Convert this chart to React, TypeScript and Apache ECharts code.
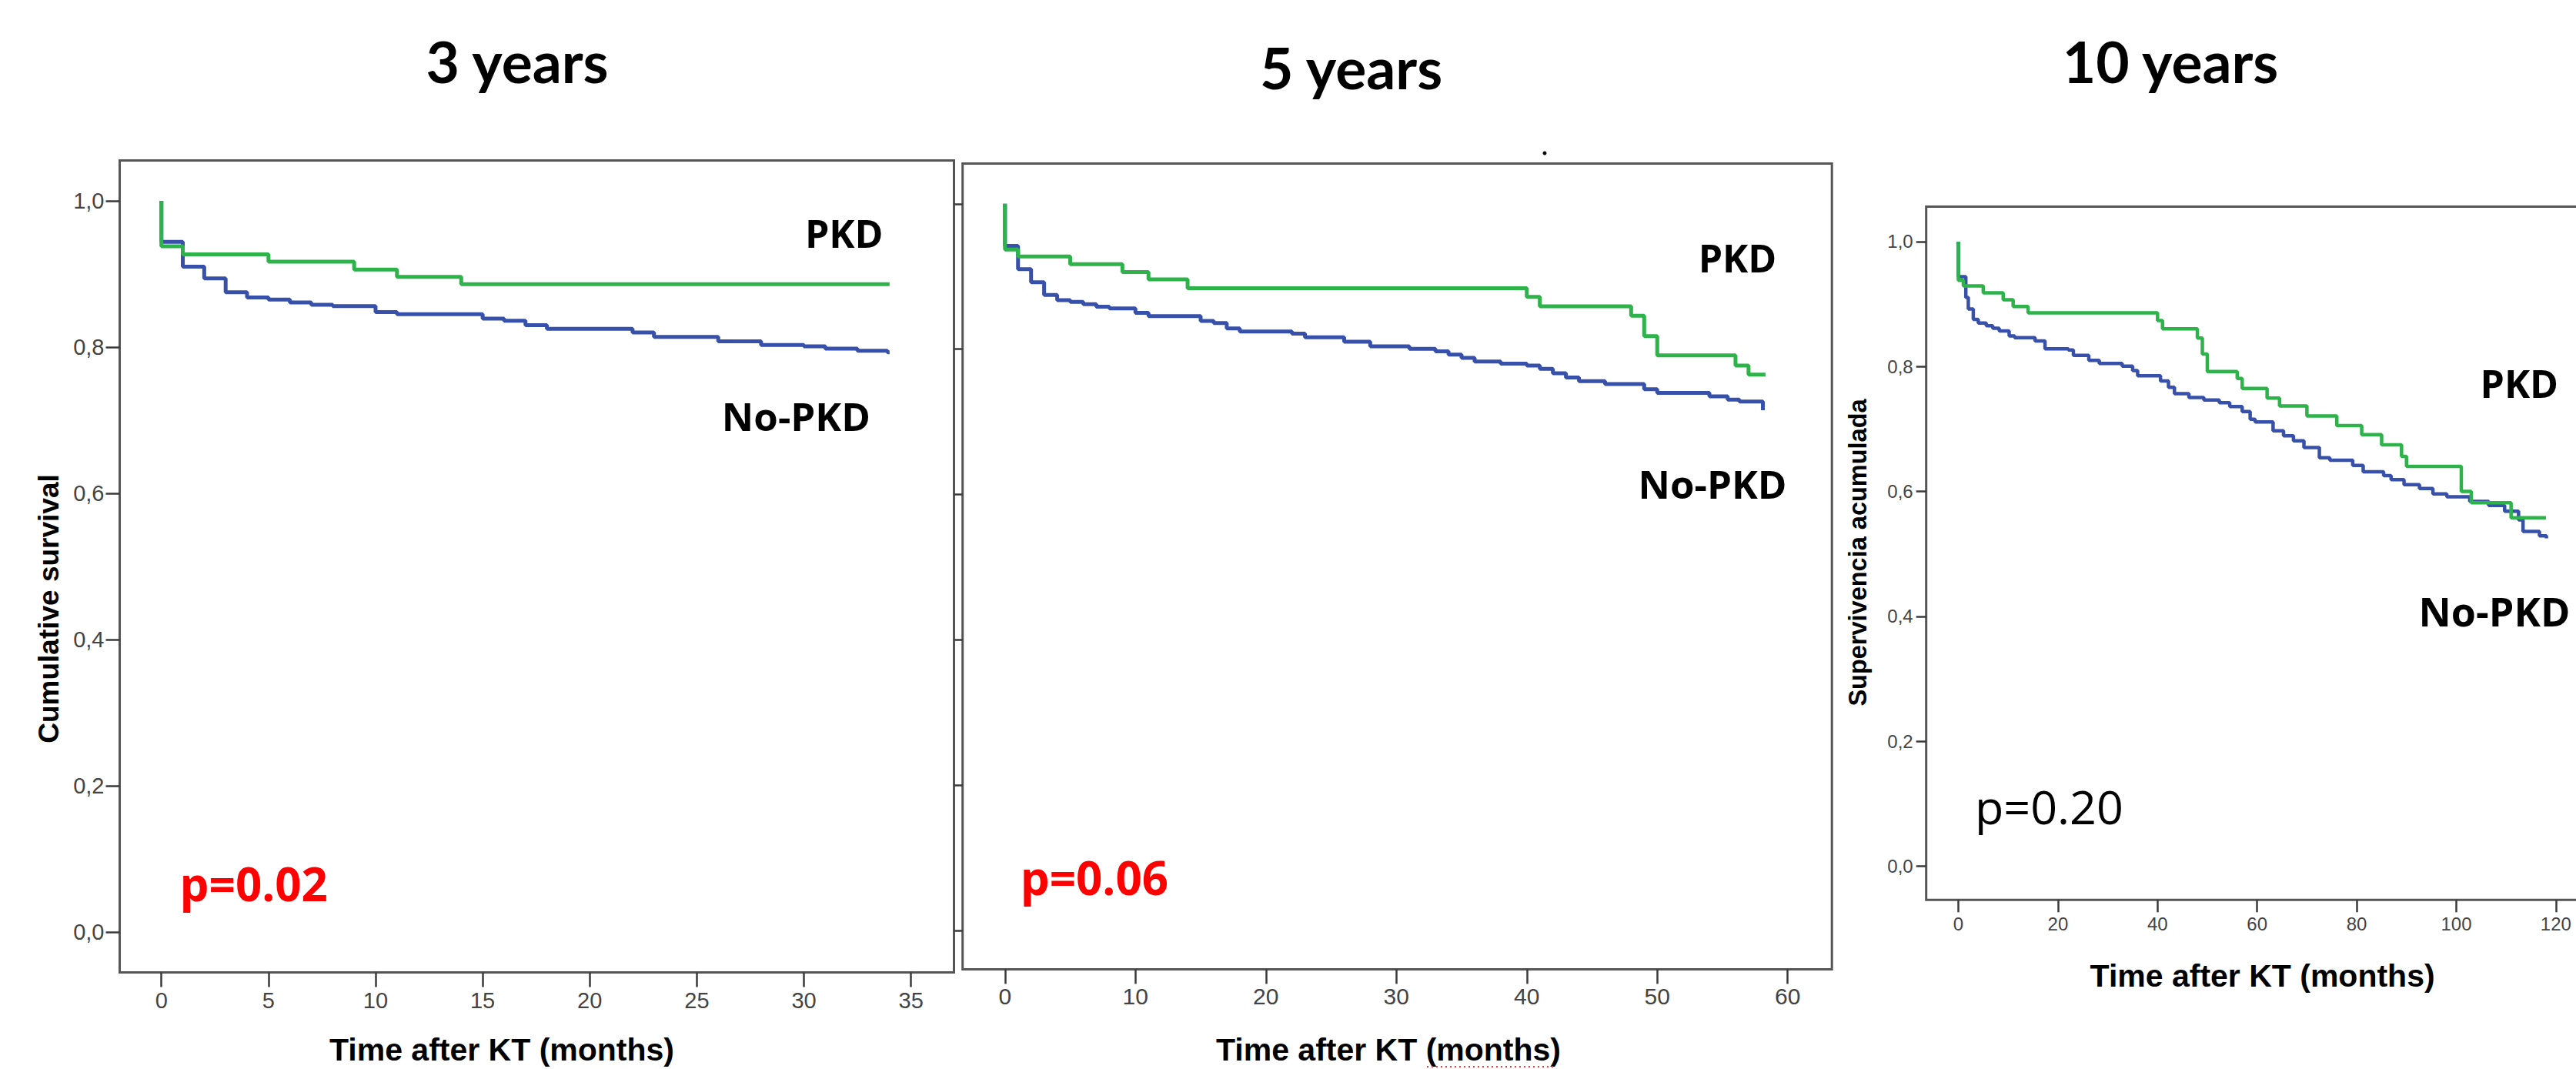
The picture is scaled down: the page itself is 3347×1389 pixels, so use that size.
import React, { useEffect, useRef } from "react";
import * as echarts from "echarts";

// ---------- data ----------
const titles = ["3 years", "5 years", "10 years"];
const groupLabels = ["PKD", "No-PKD"];
const pValues = ["p=0.02", "p=0.06", "p=0.20"];
const xTitle = "Time after KT (months)";
const yTitles = ["Cumulative survival", "Supervivencia acumulada"];

const yTicks = [0, 0.2, 0.4, 0.6, 0.8, 1.0];
const xTicks3 = [0, 5, 10, 15, 20, 25, 30, 35];
const xTicks5 = [0, 10, 20, 30, 40, 50, 60];
const xTicks10 = [0, 20, 40, 60, 80, 100, 120];

// [time (months), cumulative survival]
const pkd3 = [[0, 1], [0, 0.938], [1, 0.927], [5, 0.917], [9, 0.906], [11, 0.896], [14, 0.886], [34, 0.886]];
const noPkd3 = [
  [0, 1], [0, 0.944], [1, 0.91], [2, 0.894], [3, 0.875], [4, 0.868], [5, 0.865], [6, 0.861], [7, 0.858],
  [8, 0.856], [10, 0.848], [11, 0.845], [15, 0.839], [16, 0.836], [17, 0.83], [18, 0.825], [22, 0.82],
  [23, 0.814], [26, 0.808], [28, 0.803], [30, 0.801], [31, 0.798], [32.5, 0.795], [33.9, 0.793], [34, 0.793],
];

const pkd5 = [
  [0, 1], [0, 0.937], [1, 0.9275], [5, 0.917], [9, 0.906], [11, 0.896], [14, 0.884], [40, 0.872],
  [41, 0.859], [48, 0.846], [49, 0.818], [50, 0.7915], [56, 0.7775], [57, 0.765], [58.3, 0.765],
];
const noPkd5 = [
  [0, 1], [0, 0.942], [1, 0.91], [2, 0.892], [3, 0.8745], [4, 0.8675], [5, 0.865], [6, 0.862], [7, 0.8586],
  [8, 0.856], [10, 0.85], [11, 0.8455], [15, 0.839], [16, 0.836], [17, 0.8286], [18, 0.8244], [22, 0.8215],
  [23, 0.8163], [26, 0.8103], [28, 0.804], [31, 0.8005], [33, 0.797], [34, 0.7925], [35, 0.788], [36, 0.783],
  [38, 0.78], [40, 0.7775], [41, 0.773], [42, 0.767], [43, 0.761], [44, 0.756], [46, 0.752], [49, 0.745],
  [50, 0.74], [54, 0.735], [55.4, 0.7306], [56.3, 0.728], [58.1, 0.716],
];

const pkd10 = [
  [0, 1], [0, 0.938], [1, 0.929], [5, 0.918], [9, 0.907], [11, 0.896], [14, 0.886], [40, 0.8735],
  [41, 0.8605], [48, 0.8457], [49, 0.82], [50, 0.792], [56, 0.781], [57, 0.765], [62, 0.7496], [64.5, 0.737],
  [70, 0.7208], [76, 0.7053], [81, 0.691], [85, 0.6745], [89, 0.656], [90, 0.64], [101, 0.6], [103, 0.582],
  [111, 0.558], [118, 0.558],
];
const noPkd10 = [
  [0, 1], [0, 0.944], [1.5, 0.9105], [2, 0.892], [3, 0.8756], [4, 0.8695], [5.6, 0.8654], [6.9, 0.8613],
  [8.2, 0.857], [10.2, 0.849], [11.3, 0.8463], [15.4, 0.841], [17.4, 0.8284], [22.1, 0.8264], [23.1, 0.818],
  [26.2, 0.81], [28.3, 0.805], [32.9, 0.8005], [35, 0.7935], [36, 0.7853], [40.6, 0.777], [42.2, 0.7668],
  [43.4, 0.7565], [46.3, 0.7504], [49.3, 0.7463], [52.4, 0.7422], [54.5, 0.736], [57, 0.7278], [58.6, 0.7155],
  [59.6, 0.7114], [63.2, 0.697], [65.3, 0.689], [67.3, 0.681], [69.4, 0.6703], [72.5, 0.654], [74.6, 0.65],
  [79.2, 0.6416], [81.3, 0.6314], [85.4, 0.6252], [86.9, 0.619], [89.5, 0.6108], [92.6, 0.6047], [95.3, 0.596],
  [98.1, 0.5914], [102.7, 0.584], [106.5, 0.5775], [109.7, 0.5683], [112.5, 0.5545], [113.4, 0.536],
  [116.7, 0.5288], [118.1, 0.525],
];

// ---------- styling / layout ----------
const GREEN = "#2db34a";
const BLUE = "#3750aa";
const FRAME = "#555555";
const TICK = "#3a3a3a";
const LABEL = "#444444";

const panels = [
  {
    grid: { left: 155.5, top: 208.5, width: 1084, height: 1055 },
    xMin: -1.948, xMax: 37.007, xTicks: xTicks3, xTickLen: 19, xMargin: 22, xFont: 29,
    yMin: -0.0553, yMax: 1.0553, yTickLen: 18, yMargin: 20, yFont: 29, yLabels: true,
    pkd: pkd3, no: noPkd3, lw: 5,
  },
  {
    grid: { left: 1250.7, top: 212.4, width: 1129.5, height: 1047 },
    xMin: -3.25, xMax: 63.39, xTicks: xTicks5, xTickLen: 19, xMargin: 20, xFont: 30,
    yMin: -0.053, yMax: 1.0555, yTickLen: 11, yMargin: 20, yFont: 29, yLabels: false,
    pkd: pkd5, no: noPkd5, lw: 5,
  },
  {
    grid: { left: 2502.7, top: 268.5, width: 847.3, height: 900.8 },
    xMin: -6.46, xMax: 124.5, xTicks: xTicks10, xTickLen: 16, xMargin: 19, xFont: 24,
    yMin: -0.054, yMax: 1.056, yTickLen: 13, yMargin: 17, yFont: 24, yLabels: true,
    pkd: pkd10, no: noPkd10, lw: 4.5,
  },
];

const fmtY = (v: number) => v.toFixed(1).replace(".", ",");

function txt(text: string, x: number, y: number, o: any = {}) {
  return {
    type: "text",
    x,
    y,
    rotation: o.rotation || 0,
    silent: true,
    style: {
      text,
      fill: o.fill || "#000",
      fontSize: o.fontSize || 30,
      fontFamily: o.fontFamily || "Liberation Sans",
      fontWeight: o.fontWeight || "normal",
      textAlign: o.align || "center",
      textVerticalAlign: "middle",
    },
  };
}

export default function App() {
  const ref = useRef<HTMLDivElement>(null);

  useEffect(() => {
    if (!ref.current) return;
    const chart = echarts.init(ref.current, undefined, { renderer: "svg" });

    const grid = panels.map((p) => ({
      ...p.grid,
      show: true,
      borderColor: FRAME,
      borderWidth: 3,
      backgroundColor: "transparent",
    }));

    const xAxis = panels.map((p, i) => ({
      type: "value",
      gridIndex: i,
      min: p.xMin,
      max: p.xMax,
      axisLine: { show: false, onZero: false },
      splitLine: { show: false },
      axisTick: { show: true, length: p.xTickLen, customValues: p.xTicks, lineStyle: { color: TICK, width: 2.5 } },
      axisLabel: {
        customValues: p.xTicks,
        margin: p.xMargin,
        fontSize: p.xFont,
        fontFamily: "Liberation Sans",
        color: LABEL,
        formatter: (v: number) => String(Math.round(v)),
      },
    }));

    const yAxis = panels.map((p, i) => ({
      type: "value",
      gridIndex: i,
      min: p.yMin,
      max: p.yMax,
      axisLine: { show: false, onZero: false },
      splitLine: { show: false },
      axisTick: { show: true, length: p.yTickLen, customValues: yTicks, lineStyle: { color: TICK, width: 2.5 } },
      axisLabel: {
        show: p.yLabels,
        customValues: yTicks,
        margin: p.yMargin,
        fontSize: p.yFont,
        fontFamily: "Liberation Sans",
        color: LABEL,
        formatter: (v: number) => fmtY(v),
      },
    }));

    const series: any[] = [];
    panels.forEach((p, i) => {
      series.push({
        type: "line", xAxisIndex: i, yAxisIndex: i, data: p.no, step: "end",
        symbol: "none", showSymbol: false, silent: true, z: 2,
        lineStyle: { color: BLUE, width: p.lw },
      });
      series.push({
        type: "line", xAxisIndex: i, yAxisIndex: i, data: p.pkd, step: "end",
        symbol: "none", showSymbol: false, silent: true, z: 3,
        lineStyle: { color: GREEN, width: p.lw },
      });
    });

    const titleFont = { fontSize: 75, fontFamily: "Lato", fontWeight: "bold" };
    const grpFont = { fontFamily: "Open Sans", fontWeight: "bold" };
    const axTitle = { fontSize: 41, fontFamily: "Liberation Sans", fontWeight: "bold" };

    const graphic: any[] = [
      txt(titles[0], 672, 78.5, titleFont),
      txt(titles[1], 1755.6, 86.8, titleFont),
      txt(titles[2], 2820, 78.5, titleFont),

      txt(yTitles[0], 63, 791, { fontSize: 37, fontFamily: "Liberation Sans", fontWeight: "bold", rotation: Math.PI / 2 }),
      txt(yTitles[1], 2414, 718, { fontSize: 32.5, fontFamily: "Liberation Sans", fontWeight: "bold", rotation: Math.PI / 2 }),

      txt(xTitle, 652, 1364, axTitle),
      txt(xTitle, 1804, 1363.5, axTitle),
      txt(xTitle, 2939.6, 1267.7, axTitle),

      txt(groupLabels[0], 1096.7, 303, { ...grpFont, fontSize: 50 }),
      txt(groupLabels[1], 1034.4, 539.5, { ...grpFont, fontSize: 51 }),
      txt(groupLabels[0], 2257.5, 335, { ...grpFont, fontSize: 50 }),
      txt(groupLabels[1], 2225, 627.5, { ...grpFont, fontSize: 51 }),
      txt(groupLabels[0], 3273.3, 498, { ...grpFont, fontSize: 50 }),
      txt(groupLabels[1], 3241, 793.5, { ...grpFont, fontSize: 52 }),

      txt(pValues[0], 233.6, 1147.5, { fontSize: 60, fontFamily: "Open Sans", fontWeight: "bold", fill: "#ff0000", align: "left" }),
      txt(pValues[1], 1325.7, 1139.7, { fontSize: 60, fontFamily: "Open Sans", fontWeight: "bold", fill: "#ff0000", align: "left" }),
      txt(pValues[2], 2566, 1047.9, { fontSize: 61, fontFamily: "Open Sans", fontWeight: "normal", fill: "#000", align: "left" }),

      { type: "circle", silent: true, shape: { cx: 2007, cy: 199, r: 2.5 }, style: { fill: "#000" } },
      {
        type: "line", silent: true,
        shape: { x1: 1854, y1: 1386, x2: 2018, y2: 1386 },
        style: { stroke: "#ff3333", lineWidth: 2, lineDash: [2, 4] },
      },
    ];

    chart.setOption({
      animation: false,
      backgroundColor: "#ffffff",
      textStyle: { fontFamily: "Liberation Sans" },
      grid,
      xAxis,
      yAxis,
      series,
      graphic: { elements: graphic },
    });

    return () => chart.dispose();
  }, []);

  return (
    <div
      style={{
        position: "fixed",
        left: 0,
        top: 0,
        width: 3347,
        height: 1389,
        overflow: "hidden",
        background: "#ffffff",
      }}
    >
      <div ref={ref} style={{ width: 3360, height: 1389 }} />
    </div>
  );
}
